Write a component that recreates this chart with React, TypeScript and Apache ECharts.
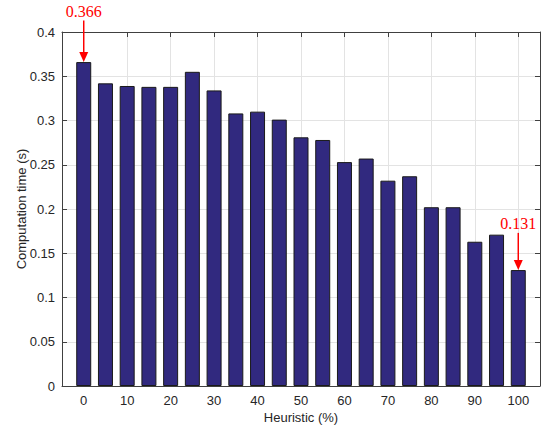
import React, { useEffect, useRef } from "react";
import * as echarts from "echarts";

const heuristic = [0, 5, 10, 15, 20, 25, 30, 35, 40, 45, 50, 55, 60, 65, 70, 75, 80, 85, 90, 95, 100];
const compTime = [0.366, 0.342, 0.339, 0.338, 0.338, 0.355, 0.334, 0.308, 0.31, 0.301, 0.281, 0.278, 0.253, 0.257, 0.232, 0.237, 0.202, 0.202, 0.163, 0.171, 0.131];
const xTicks = [0, 10, 20, 30, 40, 50, 60, 70, 80, 90, 100];
const annotations = [
  { x: 0, value: 0.366, from: 0.413, label: "0.366" },
  { x: 100, value: 0.131, from: 0.173, label: "0.131" },
];

export default function App() {
  const ref = useRef<HTMLDivElement>(null);
  useEffect(() => {
    const chart = echarts.init(ref.current!, null, { renderer: "svg" });
    const axisColor = "#404040";
    const labelFont = { fontFamily: "Liberation Sans, Arial, sans-serif", fontSize: 13, color: "#262626" };
    chart.setOption({
      animation: false,
      backgroundColor: "#ffffff",
      grid: { left: 62, right: 13, top: 32, bottom: 44 },
      xAxis: [
        {
          type: "value",
          min: -5,
          max: 105,
          name: "Heuristic (%)",
          nameLocation: "middle",
          nameGap: 25,
          nameMoveOverlap: false,
          nameTextStyle: { ...labelFont, fontSize: 13 },
          axisLine: { show: true, onZero: false, lineStyle: { color: axisColor, width: 1 } },
          axisTick: { show: true, inside: true, length: 5, customValues: xTicks, lineStyle: { color: axisColor } },
          axisLabel: { ...labelFont, margin: 8, customValues: xTicks },
          splitLine: { show: true, lineStyle: { color: "#e3e3e3", width: 1 } },
        },
        {
          type: "value",
          position: "top",
          min: -5,
          max: 105,
          axisLine: { show: true, onZero: false, lineStyle: { color: axisColor, width: 1 } },
          axisTick: { show: true, inside: true, length: 5, customValues: xTicks, lineStyle: { color: axisColor } },
          axisLabel: { show: false, customValues: xTicks },
          splitLine: { show: false },
        },
      ],
      yAxis: [
        {
          type: "value",
          min: 0,
          max: 0.4,
          interval: 0.05,
          name: "Computation time (s)",
          nameLocation: "middle",
          nameGap: 34,
          nameMoveOverlap: false,
          nameTextStyle: { ...labelFont, fontSize: 13 },
          axisLine: { show: true, onZero: false, lineStyle: { color: axisColor, width: 1 } },
          axisTick: { show: true, inside: true, length: 5, lineStyle: { color: axisColor } },
          axisLabel: { ...labelFont, margin: 7, formatter: (v: number) => String(Math.round(v * 100) / 100) },
          splitLine: { show: true, lineStyle: { color: "#e3e3e3", width: 1 } },
        },
        {
          type: "value",
          position: "right",
          min: 0,
          max: 0.4,
          interval: 0.05,
          axisLine: { show: true, onZero: false, lineStyle: { color: axisColor, width: 1 } },
          axisTick: { show: true, inside: true, length: 5, lineStyle: { color: axisColor } },
          axisLabel: { show: false },
          splitLine: { show: false },
        },
      ],
      series: [
        {
          type: "bar",
          xAxisIndex: 0,
          yAxisIndex: 0,
          barWidth: 15,
          data: heuristic.map((h, i) => [h, compTime[i]]),
          itemStyle: { color: "#31297f", borderColor: "#1a1a1a", borderWidth: 1 },
        },
      ],
    });
    const graphics: any[] = [];
    annotations.forEach((a) => {
      const [px, py] = chart.convertToPixel({ xAxisIndex: 0, yAxisIndex: 0 }, [a.x, a.value]) as number[];
      const [, pyFrom] = chart.convertToPixel({ xAxisIndex: 0, yAxisIndex: 0 }, [a.x, a.from]) as number[];
      graphics.push({
        type: "line",
        shape: { x1: px, y1: pyFrom, x2: px, y2: py - 8 },
        style: { stroke: "#ff0000", lineWidth: 1.5 },
        z: 100,
      });
      graphics.push({
        type: "polygon",
        shape: { points: [[px - 4.5, py - 10], [px + 4.5, py - 10], [px, py]] },
        style: { fill: "#ff0000" },
        z: 100,
      });
      graphics.push({
        type: "text",
        x: px,
        y: pyFrom - 1,
        style: {
          text: a.label,
          fill: "#ff0000",
          fontFamily: "Liberation Serif, Times New Roman, serif",
          fontSize: 16,
          align: "center",
          verticalAlign: "bottom",
        },
        z: 100,
      });
    });
    chart.setOption({ graphic: graphics });
    return () => chart.dispose();
  }, []);
  return <div ref={ref} style={{ width: 553, height: 430, position: "absolute", left: 0, top: 0 }} />;
}
